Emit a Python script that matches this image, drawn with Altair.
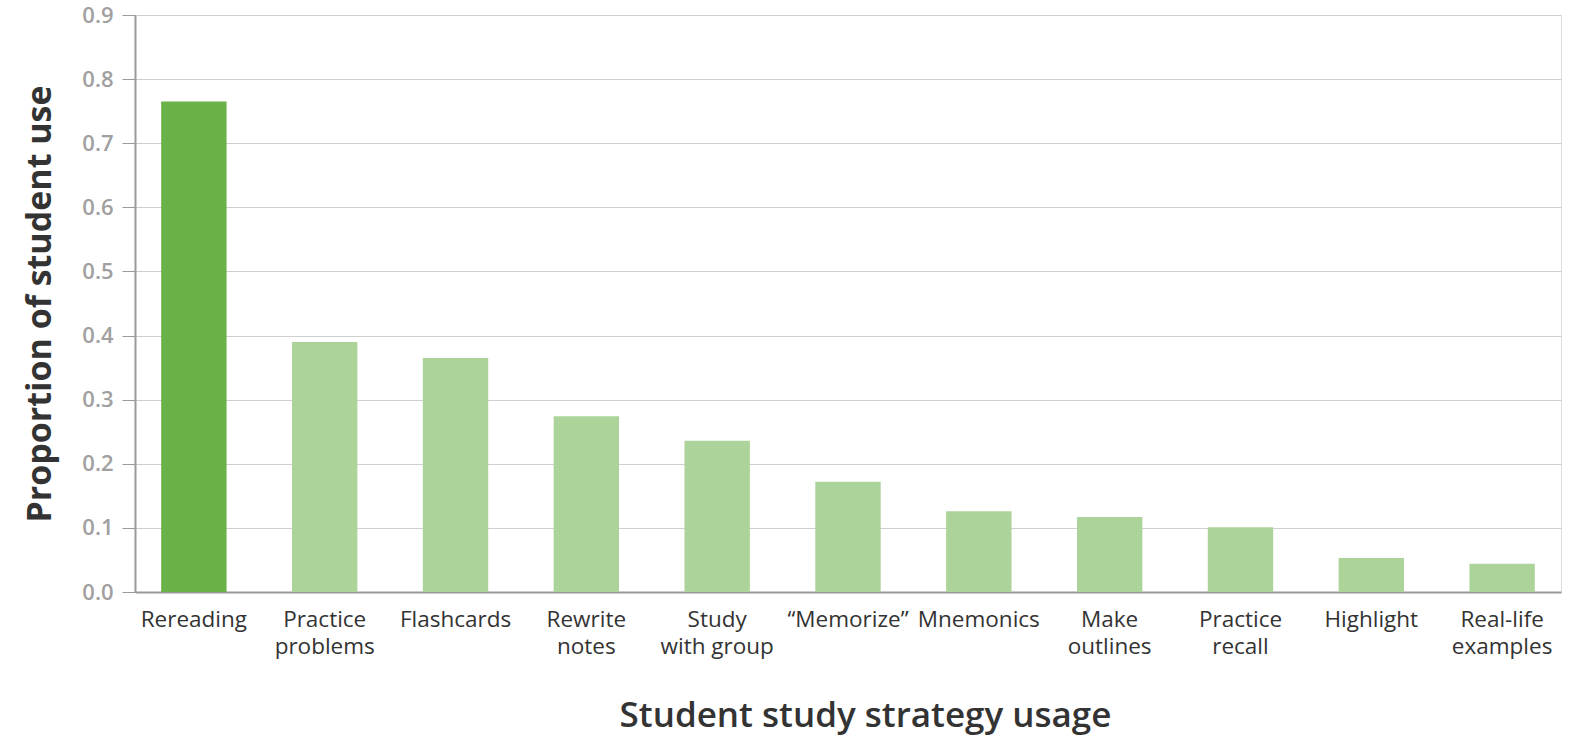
import altair as alt
import pandas as pd

# Study strategies (a "|" marks a line break in the axis label) and their share of students
strategies = [
    "Rereading", "Practice|problems", "Flashcards", "Rewrite|notes",
    "Study|with group", "\u201cMemorize\u201d", "Mnemonics", "Make|outlines",
    "Practice|recall", "Highlight", "Real-life|examples",
]
proportions = [0.765, 0.390, 0.365, 0.274, 0.236, 0.172, 0.126, 0.117, 0.101, 0.053, 0.044]
highlighted = ["Rereading"]

df = pd.DataFrame({"strategy": strategies, "proportion": proportions})
df["group"] = ["top" if s in highlighted else "other" for s in strategies]

font = "Open Sans, Noto Sans, sans-serif"

bars = alt.Chart(df).mark_bar().encode(
    x=alt.X(
        "strategy:N",
        sort=strategies,
        scale=alt.Scale(paddingInner=0.5, paddingOuter=0.2),
        axis=alt.Axis(
            title="Student study strategy usage",
            labelAngle=0,
            labelExpr="split(datum.label, '|')",
            labelFont=font,
            labelFontSize=22.5,
            labelColor="#333333",
            labelLineHeight=27.5,
            labelPadding=16,
            ticks=False,
            domainColor="#9a9a9a",
            domainWidth=2,
            titleFont=font,
            titleFontSize=35,
            titleFontWeight=600,
            titleColor="#333333",
            titlePadding=40,
            titleX=730,
            titleAlign="center",
        ),
    ),
    y=alt.Y(
        "proportion:Q",
        scale=alt.Scale(domain=[0, 0.9], nice=False),
        axis=alt.Axis(
            title="Proportion of student use",
            values=[0, 0.1, 0.2, 0.3, 0.4, 0.5, 0.6, 0.7, 0.8, 0.9],
            format=".1f",
            labelFont=font,
            labelFontSize=22,
            labelFontWeight=600,
            labelColor="#a0a0a0",
            labelPadding=9,
            tickSize=13,
            tickColor="#9a9a9a",
            domainColor="#9a9a9a",
            domainWidth=2,
            gridColor="#cfcfcf",
            gridWidth=1.2,
            titleFont=font,
            titleFontSize=34,
            titleFontWeight=700,
            titleColor="#333333",
            titlePadding=24,
        ),
    ),
    color=alt.Color(
        "group:N",
        scale=alt.Scale(domain=["top", "other"], range=["#6ab147", "#acd49a"]),
        legend=None,
    ),
)

chart = bars.properties(
    width=1426,
    height=577,
    autosize=alt.AutoSizeParams(type="none"),
    padding={"left": 135, "top": 15, "right": 12, "bottom": 149},
).configure_view(stroke=None).configure(background="white")

chart.save("out.html", embed_options={"renderer": "svg", "actions": False})
